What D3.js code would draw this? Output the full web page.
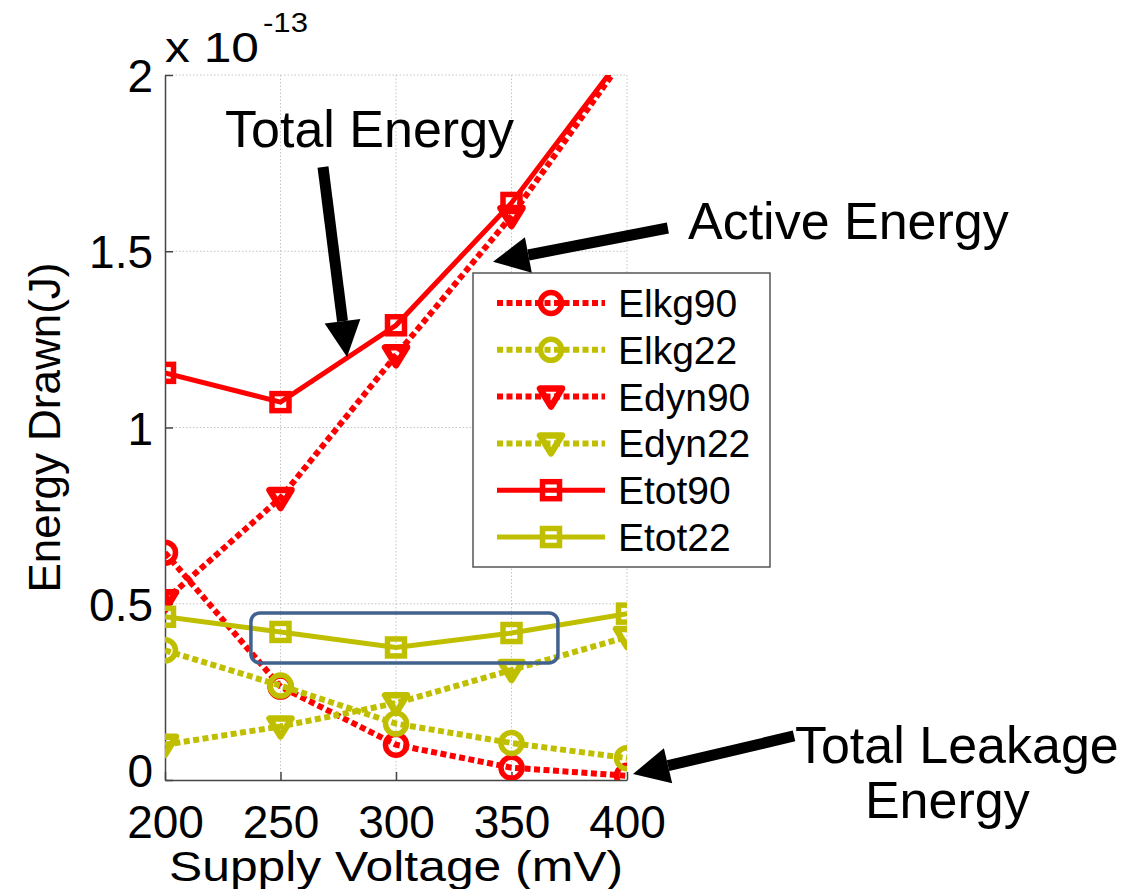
<!DOCTYPE html>
<html>
<head>
<meta charset="utf-8">
<script src="https://cdn.jsdelivr.net/npm/d3@7/dist/d3.min.js"></script>
<style>
  html, body { margin: 0; padding: 0; background: #fff; }
  svg { display: block; font-family: "Liberation Sans", Arial, Helvetica, sans-serif; }
</style>
</head>
<body>
<svg id="chart" width="1142" height="889"></svg>
<script>
// Supply voltage sweep (mV) and energy per operation, in units of 1e-13 J
const voltages = [200, 250, 300, 350, 400];
const elkg90 = [0.645, 0.265, 0.10, 0.035, 0.012];
const elkg22 = [0.368, 0.268, 0.16, 0.105, 0.062];
const edyn90 = [0.51, 0.80, 1.205, 1.60, 2.06];
const edyn22 = [0.10, 0.152, 0.218, 0.312, 0.406];
const etot90 = [1.155, 1.072, 1.29, 1.637, 2.07];
const etot22 = [0.463, 0.42, 0.376, 0.417, 0.472];

const xTicks = [200, 250, 300, 350, 400];
const yTicks = [0, 0.5, 1, 1.5, 2];
const seriesNames = ["Elkg90", "Elkg22", "Edyn90", "Edyn22", "Etot90", "Etot22"];

const RED = "#ff0000";
const OLIVE = "#bfbf00";

const series = [
  { name: seriesNames[0], values: elkg90, color: RED,   dotted: true,  marker: "circle" },
  { name: seriesNames[1], values: elkg22, color: OLIVE, dotted: true,  marker: "circle" },
  { name: seriesNames[2], values: edyn90, color: RED,   dotted: true,  marker: "triangle" },
  { name: seriesNames[3], values: edyn22, color: OLIVE, dotted: true,  marker: "triangle" },
  { name: seriesNames[4], values: etot90, color: RED,   dotted: false, marker: "square" },
  { name: seriesNames[5], values: etot22, color: OLIVE, dotted: false, marker: "square" }
];

const svg = d3.select("#chart");
const plot = { left: 165, right: 627, top: 75, bottom: 780 };

const x = d3.scaleLinear().domain([200, 400]).range([plot.left, plot.right]);
const y = d3.scaleLinear().domain([0, 2]).range([plot.bottom, plot.top]);

svg.append("defs").append("clipPath").attr("id", "plot-clip")
  .append("rect")
  .attr("x", plot.left).attr("y", plot.top)
  .attr("width", plot.right - plot.left).attr("height", plot.bottom - plot.top);

// Dotted grid
const grid = svg.append("g").attr("stroke", "#c4c4c4").attr("stroke-width", 1)
  .attr("stroke-dasharray", "1.5,2");
grid.selectAll(".gx").data(xTicks.slice(1)).join("line")
  .attr("x1", d => x(d)).attr("x2", d => x(d))
  .attr("y1", plot.top).attr("y2", plot.bottom);
grid.selectAll(".gy").data(yTicks.slice(1)).join("line")
  .attr("x1", plot.left).attr("x2", plot.right)
  .attr("y1", d => y(d)).attr("y2", d => y(d));

// Axes with inward ticks
const xAxis = d3.axisBottom(x).tickValues(xTicks).tickSizeInner(-8).tickSizeOuter(0).tickPadding(23);
const yAxis = d3.axisLeft(y).tickValues(yTicks).tickSizeInner(-8).tickSizeOuter(0).tickPadding(12)
  .tickFormat(d3.format("~g"));

const gx = svg.append("g").attr("transform", `translate(0,${plot.bottom})`).call(xAxis);
const gy = svg.append("g").attr("transform", `translate(${plot.left},0)`).call(yAxis);
[gx, gy].forEach(g => {
  g.select(".domain").attr("stroke", "#444").attr("stroke-width", 1.5);
  g.selectAll(".tick line").attr("stroke", "#444").attr("stroke-width", 1.5);
  g.selectAll(".tick text").attr("fill", "#000").attr("font-size", 46)
    .attr("font-family", "\"Liberation Sans\", Arial, sans-serif");
});
gx.selectAll(".tick text").attr("dy", "0.76em");
gy.selectAll(".tick text").attr("dy", d => d === 0 ? "0.15em" : "0.36em");

// Exponent label
svg.append("text").attr("x", x(200)).attr("y", 62).attr("font-size", 43).attr("fill", "#000")
  .attr("textLength", 94).attr("lengthAdjust", "spacingAndGlyphs").text("x 10");
svg.append("text").attr("x", 263).attr("y", 32).attr("font-size", 27).attr("fill", "#000")
  .attr("textLength", 45).attr("lengthAdjust", "spacingAndGlyphs").text("-13");

// Axis titles
svg.append("text")
  .attr("x", (plot.left + plot.right) / 2).attr("y", 881)
  .attr("text-anchor", "middle").attr("font-size", 42)
  .attr("textLength", 454).attr("lengthAdjust", "spacingAndGlyphs")
  .text("Supply Voltage (mV)");
svg.append("text")
  .attr("transform", `translate(60,${(plot.top + plot.bottom) / 2}) rotate(-90)`)
  .attr("text-anchor", "middle").attr("font-size", 44)
  .attr("textLength", 330).attr("lengthAdjust", "spacingAndGlyphs")
  .text("Energy Drawn(J)");

// Marker shapes
function drawMarker(sel, kind, color) {
  if (kind === "circle") {
    sel.append("circle").attr("r", 10.5).attr("fill", "none")
      .attr("stroke", color).attr("stroke-width", 5.5);
  } else if (kind === "square") {
    sel.append("rect").attr("x", -8.5).attr("y", -8.5).attr("width", 17).attr("height", 17)
      .attr("fill", "none").attr("stroke", color).attr("stroke-width", 5.5);
  } else {
    sel.append("path").attr("d", "M-11,-8 L11,-8 L0,10 Z").attr("fill", "none")
      .attr("stroke", color).attr("stroke-width", 6.5).attr("stroke-linejoin", "round");
  }
}

const line = d3.line().x((d, i) => x(voltages[i])).y(d => y(d));

const dataLayer = svg.append("g").attr("clip-path", "url(#plot-clip)");
series.forEach(s => {
  const g = dataLayer.append("g");
  g.append("path").attr("d", line(s.values)).attr("fill", "none")
    .attr("stroke", s.color).attr("stroke-width", s.dotted ? 6 : 5)
    .attr("stroke-dasharray", s.dotted ? "6,3.5" : null);
  s.values.forEach((v, i) => {
    const m = g.append("g").attr("transform", `translate(${x(voltages[i])},${y(v)})`);
    drawMarker(m, s.marker, s.color);
  });
});

// Legend
const legend = svg.append("g");
legend.append("rect").attr("x", 473).attr("y", 273).attr("width", 297).attr("height", 294)
  .attr("fill", "#fff").attr("stroke", "#555").attr("stroke-width", 1.5);
series.forEach((s, i) => {
  const ly = 303 + i * 46.8;
  legend.append("line").attr("x1", 497).attr("x2", 605).attr("y1", ly).attr("y2", ly)
    .attr("stroke", s.color).attr("stroke-width", s.dotted ? 6 : 5)
    .attr("stroke-dasharray", s.dotted ? "6,3.5" : null);
  const m = legend.append("g").attr("transform", `translate(551,${ly})`);
  drawMarker(m, s.marker, s.color);
  legend.append("text").attr("x", 618).attr("y", ly).attr("dy", "0.36em")
    .attr("font-size", 39).attr("fill", "#000").text(s.name);
});

// Highlight box around the flat 22nm total-energy region
svg.append("rect")
  .attr("x", x(237.2)).attr("y", y(0.474))
  .attr("width", x(370.1) - x(237.2)).attr("height", y(0.332) - y(0.474))
  .attr("rx", 9).attr("ry", 9)
  .attr("fill", "none").attr("stroke", "#41618f").attr("stroke-width", 3.5);

// Annotation arrows, positioned in data space
const arrows = [
  { from: [268.4, 1.739], to: [278.8, 1.20] },
  { from: [417.7, 1.566], to: [342.0, 1.47] },
  { from: [472.3, 0.125], to: [402.6, 0.017] }
];
arrows.forEach(a => {
  const x0 = x(a.from[0]), y0 = y(a.from[1]);
  const x1 = x(a.to[0]), y1 = y(a.to[1]);
  const ang = Math.atan2(y1 - y0, x1 - x0);
  const headLen = 36, headHalf = 18;
  const bx = x1 - headLen * Math.cos(ang), by = y1 - headLen * Math.sin(ang);
  svg.append("line").attr("x1", x0).attr("y1", y0).attr("x2", bx).attr("y2", by)
    .attr("stroke", "#000").attr("stroke-width", 11);
  const px = -Math.sin(ang), py = Math.cos(ang);
  svg.append("path")
    .attr("d", `M${x1},${y1} L${bx + px * headHalf},${by + py * headHalf} L${bx - px * headHalf},${by - py * headHalf} Z`)
    .attr("fill", "#000");
});

// Annotation labels
const notes = [
  { text: "Total Energy", at: [226, 1.796] },
  { text: "Active Energy", at: [426.4, 1.535] },
  { text: "Total Leakage", at: [472.7, 0.048] },
  { text: "Energy", at: [503, -0.108] }
];
notes.forEach(n => {
  svg.append("text").attr("x", x(n.at[0])).attr("y", y(n.at[1]))
    .attr("font-size", 52).attr("fill", "#000").text(n.text);
});
</script>
</body>
</html>
